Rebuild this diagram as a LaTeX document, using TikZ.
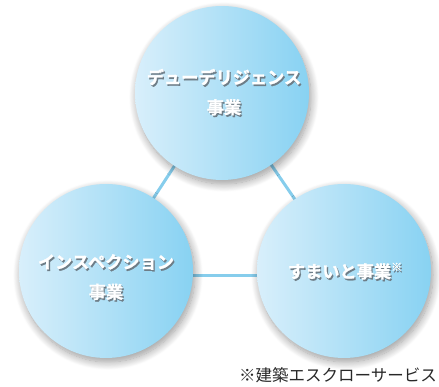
\documentclass[tikz,border=0pt]{standalone}
\usepackage{fontspec}
\newfontfamily\cjk{Noto Sans CJK JP}
\newfontfamily\cjkb{Noto Sans CJK JP Bold}[FakeBold=1.4]
\usetikzlibrary{shadows.blur}
\definecolor{cleft}{RGB}{216,239,251}
\definecolor{cright}{RGB}{136,210,242}
\definecolor{linec}{RGB}{134,205,236}
\definecolor{notec}{RGB}{40,40,40}
\definecolor{tshadow}{RGB}{110,125,135}
\tikzset{
  bubble/.style={circle, minimum size=174pt, inner sep=0pt, left color=cleft, right color=cright, draw=none,
    blur shadow={shadow xshift=2pt, shadow yshift=-4pt, shadow blur steps=12, shadow blur radius=8pt, shadow opacity=40}},
  link/.style={draw=linec, line width=3pt},
  label/.style={text=white, font=\cjkb\fontsize{17.2}{30}\selectfont, align=center},
}
\newcommand{\sh}[1]{\leavevmode\rlap{\kern1.3pt\raisebox{-1.7pt}{\textcolor{tshadow}{#1}}}#1}
\begin{document}
\begin{tikzpicture}[x=1pt,y=1pt]
\useasboundingbox (0,0) rectangle (439,387);
\coordinate (ct) at (222,294);
\coordinate (cl) at (106,116);
\coordinate (cr) at (344,116);
\draw[link] (ct) -- (cl);
\draw[link] (ct) -- (cr);
\draw[link] ([yshift=-5pt]cl) -- ([yshift=-5pt]cr);
\node[bubble] (top) at (ct) {};
\node[bubble] (left) at (cl) {};
\node[bubble] (right) at (cr) {};
\node[label] (ttop) at (224,294) {\sh{デューデリジェンス}\\\sh{事業}};
\node[label] (tleft) at (106,109) {\sh{インスペクション}\\\sh{事業}};
\node[label] (tright) at (345,115) {\sh{すまいと事業}\raisebox{7pt}{\fontsize{11}{11}\selectfont\sh{※}}};
\node[text=notec, font=\cjk\fontsize{16.5}{18}\selectfont, anchor=east, inner sep=0pt] (note) at (437,12) {※建築エスクローサービス};
\end{tikzpicture}
\end{document}
